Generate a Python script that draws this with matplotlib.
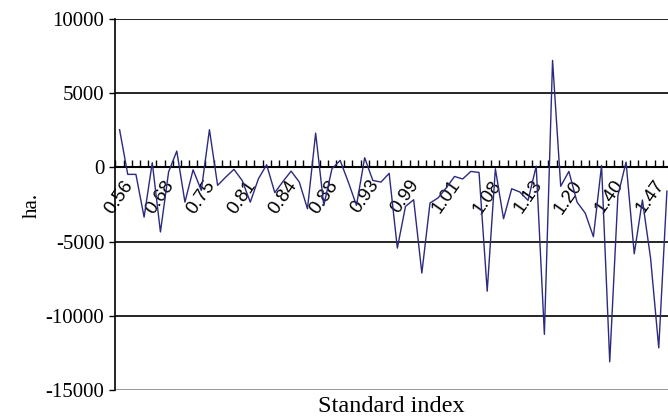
import matplotlib
matplotlib.use('Agg')
import matplotlib.pyplot as plt
from matplotlib.ticker import FixedLocator, NullFormatter

# values per category (ha.)
values = [2540, -470, -470, -3350, 320, -4350, -310, 1100, -2340, -160,
          -1550, 2540, -1210, -650, -130, -880, -2340, -760, 180, -1700,
          -950, -250, -990, -2790, 2310, -2560, -90, 470, -990, -2560,
          650, -880, -990, -400, -5440, -2630, -2180, -7120, -2400, -2050,
          -1370, -610, -780, -270, -340, -8340, -90, -3460, -1440, -1660,
          -2220, 80, -11250, 7210, -1270, -270, -2340, -3080, -4670, 130,
          -13100, -1900, 360, -5820, -2200, -6120, -12160, -1600]
tick_labels = ['0.56', '0.68', '0.75', '0.81', '0.84', '0.88', '0.93',
               '0.99', '1.01', '1.08', '1.13', '1.20', '1.40', '1.47']
label_step = 5

fig = plt.figure(figsize=(6.68, 4.18), dpi=100)
ax = fig.add_axes([115.5 / 668, 28 / 418, (671 - 115.5) / 668, 371 / 418])

x = list(range(len(values)))
ax.plot(x, values, color='#2B2A80', lw=1.0, zorder=3)

ax.set_xlim(-0.5, len(values) - 0.5)
ax.set_ylim(-15000, 10000)

# horizontal gridlines
for yv in [10000, 5000, -5000, -10000]:
    ax.axhline(yv, color='black', lw=1.2, zorder=1)
ax.axhline(-15000, color='#777777', lw=1.8, zorder=1)

ax.spines['top'].set_visible(False)
ax.spines['right'].set_visible(False)
ax.spines['bottom'].set_position(('data', 0))
ax.spines['bottom'].set_linewidth(1.5)
ax.spines['left'].set_linewidth(1.2)

ax.set_yticks([10000, 5000, 0, -5000, -10000, -15000])
ax.set_yticklabels(['10000', '5000', '0', '-5000', '-10000', '-15000'],
                   fontfamily='Liberation Serif', fontsize=15)
ax.tick_params(axis='y', direction='out', length=4, width=1, pad=4)

major = [i * label_step for i in range(len(tick_labels))]
ax.set_xticks(major)
ax.set_xticklabels(tick_labels, rotation=55, ha='center', va='top',
                   fontfamily='Liberation Sans', fontsize=13.5)
ax.tick_params(axis='x', which='major', length=0, pad=7)
ax.xaxis.set_minor_locator(FixedLocator([i - 0.5 for i in range(len(values) + 1)]))
ax.xaxis.set_minor_formatter(NullFormatter())
ax.tick_params(axis='x', which='minor', direction='in', length=5, width=1)

fig.text(32 / 668, 1 - 205 / 418, 'ha.', rotation=90, ha='center', va='center',
         fontfamily='Liberation Serif', fontsize=15)
fig.text(391 / 668, 1 - 407 / 418, 'Standard index', ha='center', va='center',
         fontfamily='Liberation Serif', fontsize=17.5)

fig.savefig('out.png', dpi=100)
